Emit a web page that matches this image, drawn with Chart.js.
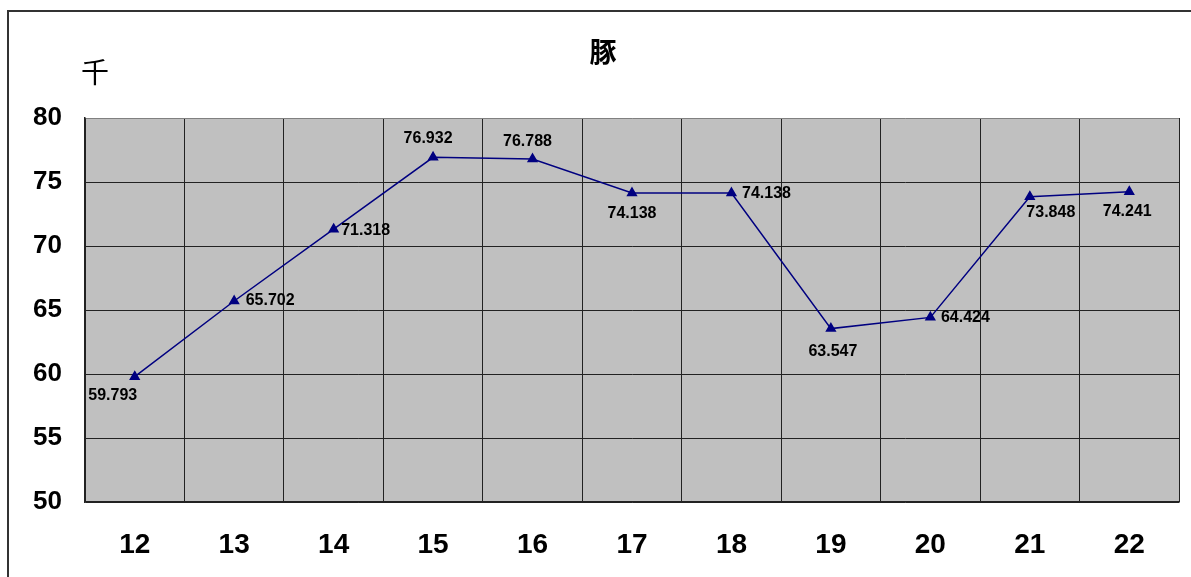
<!DOCTYPE html>
<html>
<head>
<meta charset="utf-8">
<script src="https://cdn.jsdelivr.net/npm/chart.js@4.4.0/dist/chart.umd.min.js"></script>
<style>
  html, body { margin: 0; padding: 0; background: #fff; }
  #wrap { width: 1191px; height: 577px; position: relative; }
</style>
</head>
<body>
<div id="wrap"><canvas id="chart" width="1191" height="577"></canvas></div>
<script>
// ===============================
// Data
// ===============================
const years = ["12", "13", "14", "15", "16", "17", "18", "19", "20", "21", "22"];
const pigs = [59.793, 65.702, 71.318, 76.932, 76.788, 74.138, 74.138, 63.547, 64.424, 73.848, 74.241];
const yTicks = [50, 55, 60, 65, 70, 75, 80];

// where each value label sits relative to its point (dx, dy in px)
const labelOffsets = [
  [-22, 19], [36, 0], [32, 1], [-5, -19], [-5, -18], [0, 21],
  [35, 1], [2, 23], [35, 0], [21, 16], [-2, 20]
];

const labelFont = "bold 16px 'Liberation Sans', Arial, sans-serif";

// frame, plot background, title, unit
const decor = {
  id: "decor",
  beforeDraw(chart) {
    const c = chart.ctx;
    const a = chart.chartArea;
    c.save();
    c.fillStyle = "#fff";
    c.fillRect(0, 0, chart.width, chart.height);
    // outer frame (left + top only visible)
    c.strokeStyle = "#333";
    c.lineWidth = 2;
    c.beginPath();
    c.moveTo(8, chart.height);
    c.lineTo(8, 11);
    c.lineTo(chart.width, 11);
    c.stroke();
    // plot area fill
    c.fillStyle = "#C0C0C0";
    c.fillRect(a.left, a.top, a.right - a.left, a.bottom - a.top);
    // title and unit
    c.fillStyle = "#000";
    c.textAlign = "center";
    c.textBaseline = "middle";
    c.font = "bold 27px 'Noto Sans CJK JP', sans-serif";
    c.fillText("豚", 603, 52);
    c.font = "28px 'Noto Sans CJK JP', sans-serif";
    c.fillText("千", 95, 72);
    c.restore();
  },
  afterDatasetsDraw(chart) {
    const c = chart.ctx;
    const meta = chart.getDatasetMeta(0);
    c.save();
    c.font = labelFont;
    c.fillStyle = "#000";
    c.textAlign = "center";
    c.textBaseline = "middle";
    meta.data.forEach((pt, i) => {
      const off = labelOffsets[i];
      c.fillText(pigs[i].toFixed(3), pt.x + off[0], pt.y + off[1]);
    });
    c.restore();
  }
};

const ctx = document.getElementById("chart").getContext("2d");

new Chart(ctx, {
  type: "line",
  data: {
    labels: years,
    datasets: [{
      data: pigs,
      borderColor: "#000080",
      backgroundColor: "#000080",
      borderWidth: 1.5,
      pointStyle: "triangle",
      pointRadius: 5,
      pointBackgroundColor: "#000080",
      pointBorderColor: "#000080",
      tension: 0
    }]
  },
  options: {
    responsive: false,
    animation: false,
    devicePixelRatio: 1,
    layout: { padding: { left: 0, top: 118, right: 12, bottom: 0 } },
    plugins: {
      legend: { display: false },
      tooltip: { enabled: false }
    },
    scales: {
      x: {
        offset: true,
        grid: {
          offset: true,
          drawTicks: false,
          color: (c) => c.index === years.length ? "#808080" : "#222",
          lineWidth: 1
        },
        border: { color: "#222", width: 1.5 },
        ticks: {
          padding: 26,
          color: "#000",
          font: { family: "'Liberation Sans', Arial, sans-serif", size: 28, weight: "bold" }
        },
        afterFit: (s) => { s.height = 75; }
      },
      y: {
        min: 50,
        max: 80,
        afterBuildTicks: (s) => { s.ticks = yTicks.map(v => ({ value: v })); },
        grid: {
          drawTicks: false,
          color: (c) => c.tick && c.tick.value === 80 ? "#808080" : "#222",
          lineWidth: 1
        },
        border: { color: "#222", width: 1.5 },
        ticks: {
          padding: 23,
          color: "#000",
          font: { family: "'Liberation Sans', Arial, sans-serif", size: 26, weight: "bold" }
        },
        afterFit: (s) => { s.width = 85; }
      }
    }
  },
  plugins: [decor]
});
</script>
</body>
</html>
